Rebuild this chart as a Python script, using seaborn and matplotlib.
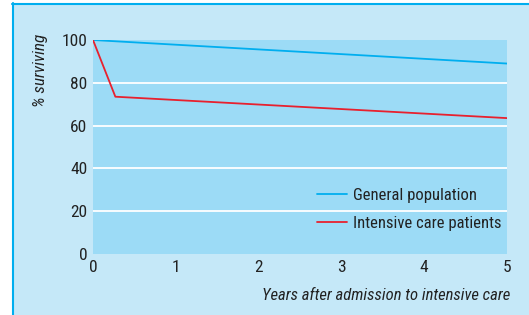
import matplotlib
matplotlib.use("Agg")
import matplotlib.pyplot as plt
from matplotlib.lines import Line2D
from matplotlib.patches import Rectangle
from matplotlib import font_manager
import seaborn as sns
import pandas as pd

# Data
general_years = [0, 5]
general_surv = [100, 89]
icu_years = [0, 0.27, 5]
icu_surv = [100, 73.5, 63.5]
series_names = ["General population", "Intensive care patients"]
x_ticks = [0, 1, 2, 3, 4, 5]
y_ticks = [0, 20, 40, 60, 80, 100]

df = pd.concat([
    pd.DataFrame({"years": general_years, "surv": general_surv, "series": series_names[0]}),
    pd.DataFrame({"years": icu_years, "surv": icu_surv, "series": series_names[1]}),
], ignore_index=True)

sns.set_theme(style="white")
names = {f.name for f in font_manager.fontManager.ttflist}
cands = ["Liberation Sans Narrow", "Roboto Condensed", "Open Sans Condensed", "DejaVu Sans"]
FONT = [c for c in cands if c in names] + ["DejaVu Sans"]
plt.rcParams["font.family"] = FONT
plt.rcParams["font.stretch"] = "condensed"

W, H = 529, 315
fig = plt.figure(figsize=(W / 100, H / 100), dpi=100)
fig.patch.set_facecolor("white")

# Panel background with cyan left/top border
fig.patches.append(Rectangle((12 / W, 0), 1 - 12 / W, 1 - 3 / H,
                             transform=fig.transFigure, facecolor="#C5E8F8",
                             edgecolor="none", zorder=-10))
fig.lines.append(Line2D([12.5 / W, 12.5 / W], [0, 1 - 3 / H], transform=fig.transFigure,
                        color="#00AEEF", lw=1.5, zorder=-9))
fig.lines.append(Line2D([12 / W, 1], [1 - 3.5 / H, 1 - 3.5 / H], transform=fig.transFigure,
                        color="#00AEEF", lw=1.5, zorder=-9))

ax = fig.add_axes([93 / W, 1 - 254 / H, (507 - 93) / W, (254 - 40) / H])
ax.set_zorder(5)
ax.set_facecolor("#9CDBF6")

palette = {series_names[0]: "#00AEEF", series_names[1]: "#E8212E"}
sns.lineplot(data=df, x="years", y="surv", hue="series", palette=palette,
             linewidth=1.3, ax=ax, legend=False, zorder=3)

ax.set_xlim(0, 5)
ax.set_ylim(0, 100)
ax.set_xticks(x_ticks)
ax.set_yticks(y_ticks)
ax.set_xticklabels([str(t) for t in x_ticks])
ax.set_yticklabels([str(t) for t in y_ticks])
for s in ax.spines.values():
    s.set_visible(False)
for yv in [20, 40, 60, 80]:
    ax.axhline(yv, color="white", lw=1.3, zorder=1)
ax.tick_params(axis="x", direction="in", labelcolor="#222222", color="white",
               length=3, width=1.5, pad=4, labelsize=12.5)
ax.tick_params(axis="y", length=0, pad=4, labelsize=12.5, labelcolor="#222222")
for lbl in ax.get_xticklabels() + ax.get_yticklabels():
    lbl.set_family(FONT)
    lbl.set_stretch("condensed")
ax.set_xlabel("")
ax.set_ylabel("")

handles = [Line2D([0], [0], color=palette[n], lw=1.3) for n in series_names]
leg = ax.legend(handles, series_names, loc="upper left", bbox_to_anchor=(0.541, 0.31),
                frameon=False, handlelength=1.8, handletextpad=0.36, labelspacing=0.8,
                borderpad=0, borderaxespad=0,
                prop={"family": FONT, "size": 12, "stretch": "condensed"})
for t in leg.get_texts():
    t.set_color("#222222")

fig.text(40 / W, 1 - 70 / H, "% surviving", rotation=90, ha="center", va="center",
         fontsize=12.3, style="italic", color="#222222", family=FONT, stretch="condensed")
fig.text(510 / W, 1 - 296 / H, "Years after admission to intensive care", ha="right",
         va="center", fontsize=12, style="italic", color="#222222", family=FONT,
         stretch="condensed")

fig.savefig("out.png", dpi=100, facecolor=fig.get_facecolor())
